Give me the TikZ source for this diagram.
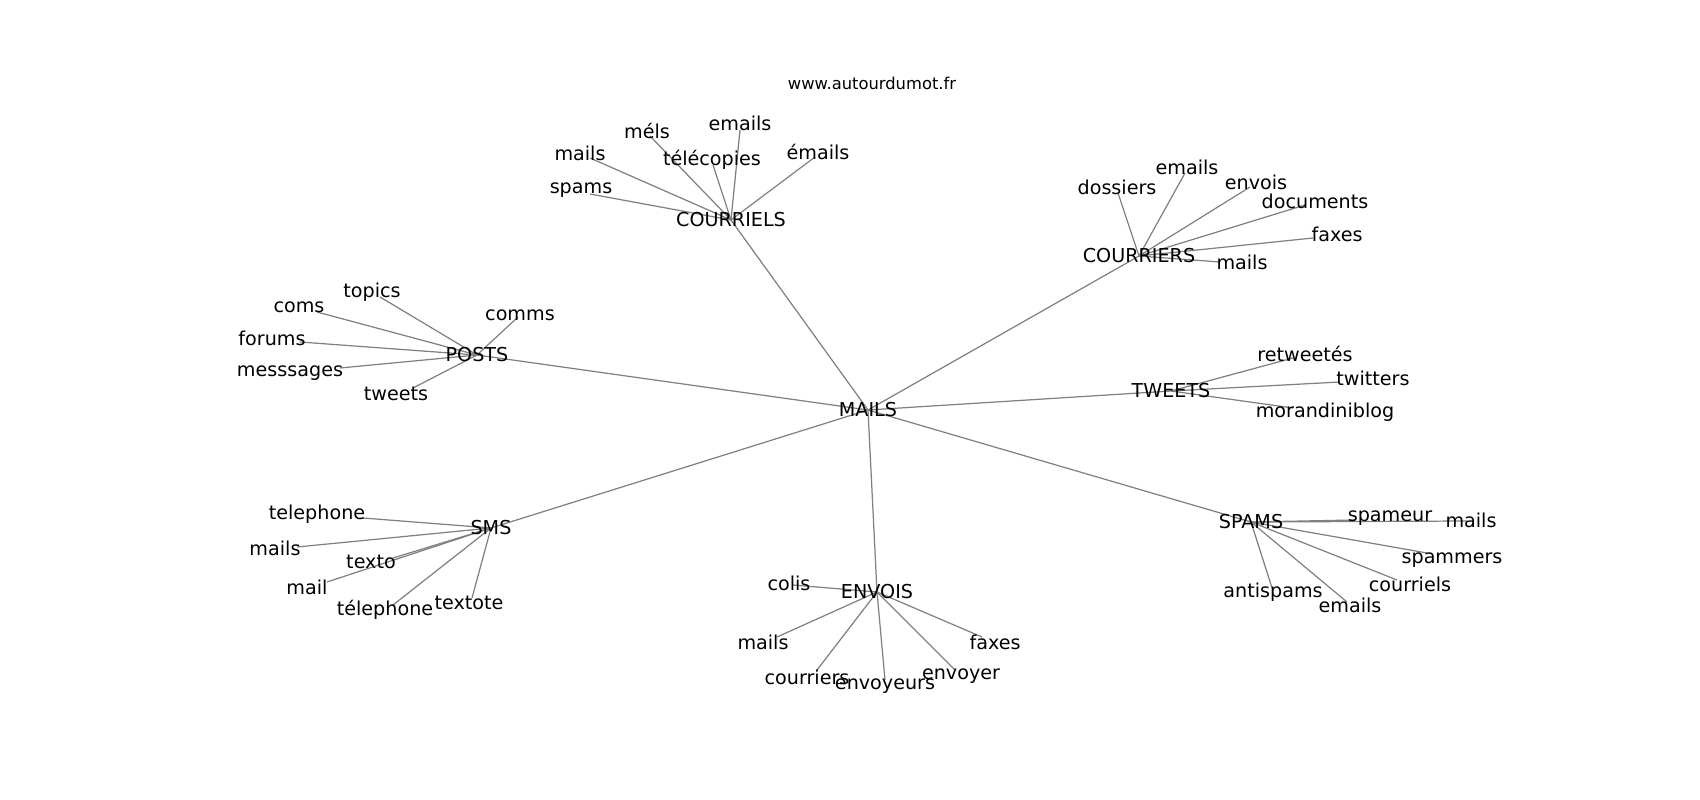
\documentclass[tikz,border=0pt]{standalone}
\usepackage{fontspec}
\setmainfont{DejaVu Sans}
\usepackage{tikz}
\usetikzlibrary{backgrounds}

\begin{document}
\begin{tikzpicture}[
      x=0.02cm, y=-0.02cm,
      hub/.style={inner sep=0pt, font=\fontsize{10.9}{12}\selectfont},
      word/.style={inner sep=0pt, font=\fontsize{10.9}{12}\selectfont},
      site/.style={inner sep=0pt, font=\fontsize{9.3}{11}\selectfont},
      link/.style={draw=black!50, line width=0.7pt}
    ]
    \useasboundingbox (0,0) rectangle (1700,800);

    % --- Title ---
    \node[site] (site) at (872,83) {www.autourdumot.fr};

    % --- Hubs ---
    \node[hub] (mails)     at (868,410)  {MAILS};
    \node[hub] (courriels) at (731,220)  {COURRIELS};
    \node[hub] (courriers) at (1139,256) {COURRIERS};
    \node[hub] (posts)     at (477,355)  {POSTS};
    \node[hub] (tweets)    at (1171,391) {TWEETS};
    \node[hub] (sms)       at (491,528)  {SMS};
    \node[hub] (envois)    at (877,592)  {ENVOIS};
    \node[hub] (spams)     at (1251,522) {SPAMS};

    % --- Words around COURRIELS ---
    \node[word] (ce-mels)   at (647,131) {méls};
    \node[word] (ce-emails) at (740,123) {emails};
    \node[word] (ce-mails)  at (580,153) {mails};
    \node[word] (ce-telec)  at (712,160) {télécopies};
    \node[word] (ce-emls)   at (818,152) {émails};
    \node[word] (ce-spams)  at (581,190) {spams};
    \coordinate (ce-mels-x)   at (650,136);
    \coordinate (ce-emails-x) at (740,130);
    \coordinate (ce-mails-x)  at (590,158);
    \coordinate (ce-telec-x)  at (713,165);
    \coordinate (ce-emls-x)   at (815,157);
    \coordinate (ce-spams-x)  at (590,194);

    % --- Words around COURRIERS ---
    \node[word] (cr-emails) at (1187,167) {emails};
    \node[word] (cr-doss)   at (1117,187) {dossiers};
    \node[word] (cr-envois) at (1256,182) {envois};
    \node[word] (cr-docs)   at (1315,201) {documents};
    \node[word] (cr-faxes)  at (1337,234) {faxes};
    \node[word] (cr-mails)  at (1242,262) {mails};
    \coordinate (cr-emails-x) at (1185,173);
    \coordinate (cr-doss-x)   at (1118,193);
    \coordinate (cr-envois-x) at (1250,187);
    \coordinate (cr-docs-x)   at (1305,205);
    \coordinate (cr-faxes-x)  at (1313,238);
    \coordinate (cr-mails-x)  at (1220,262);

    % --- Words around TWEETS ---
    \node[word] (tw-retw) at (1305,354) {retweetés};
    \node[word] (tw-twit) at (1373,378) {twitters};
    \node[word] (tw-mora) at (1325,412) {morandiniblog};
    \coordinate (tw-retw-x) at (1293,358);
    \coordinate (tw-twit-x) at (1340,382);
    \coordinate (tw-mora-x) at (1293,408);

    % --- Words around SPAMS ---
    \node[word] (sp-spameur) at (1390,518) {spameur};
    \node[word] (sp-mails)   at (1471,520) {mails};
    \node[word] (sp-spamm)   at (1452,560) {spammers};
    \node[word] (sp-courr)   at (1410,584) {courriels};
    \node[word] (sp-anti)    at (1273,592) {antispams};
    \node[word] (sp-emails)  at (1350,605) {emails};
    \coordinate (sp-spameur-x) at (1355,520);
    \coordinate (sp-mails-x)   at (1467,521);
    \coordinate (sp-spamm-x)   at (1427,553);
    \coordinate (sp-courr-x)   at (1397,580);
    \coordinate (sp-anti-x)    at (1272,588);
    \coordinate (sp-emails-x)  at (1347,602);

    % --- Words around ENVOIS ---
    \node[word] (en-colis)   at (789,583) {colis};
    \node[word] (en-mails)   at (763,642) {mails};
    \node[word] (en-courr)   at (807,677) {courriers};
    \node[word] (en-envoyrs) at (885,686) {envoyeurs};
    \node[word] (en-envoyer) at (961,676) {envoyer};
    \node[word] (en-faxes)   at (995,642) {faxes};
    \coordinate (en-colis-x)   at (793,585);
    \coordinate (en-mails-x)   at (777,637);
    \coordinate (en-courr-x)   at (817,670);
    \coordinate (en-envoyrs-x) at (885,680);
    \coordinate (en-envoyer-x) at (955,670);
    \coordinate (en-faxes-x)   at (982,637);

    % --- Words around SMS ---
    \node[word] (sm-tel)    at (317,514) {telephone};
    \node[word] (sm-mails)  at (275,548) {mails};
    \node[word] (sm-texto)  at (371,562) {texto};
    \node[word] (sm-mail)   at (307,587) {mail};
    \node[word] (sm-tele)   at (385,610) {télephone};
    \node[word] (sm-textot) at (469,603) {textote};
    \coordinate (sm-tel-x)    at (363,518);
    \coordinate (sm-mails-x)  at (297,547);
    \coordinate (sm-texto-x)  at (393,558);
    \coordinate (sm-mail-x)   at (327,582);
    \coordinate (sm-tele-x)   at (393,605);
    \coordinate (sm-textot-x) at (472,598);

    % --- Words around POSTS ---
    \node[word] (po-topics) at (372,292) {topics};
    \node[word] (po-coms)   at (299,307) {coms};
    \node[word] (po-forums) at (272,338) {forums};
    \node[word] (po-mess)   at (290,373) {messsages};
    \node[word] (po-comms)  at (520,315) {comms};
    \node[word] (po-tweets) at (396,394) {tweets};
    \coordinate (po-topics-x) at (380,297);
    \coordinate (po-coms-x)   at (317,312);
    \coordinate (po-forums-x) at (300,342);
    \coordinate (po-mess-x)   at (340,368);
    \coordinate (po-comms-x)  at (518,317);
    \coordinate (po-tweets-x) at (413,388);

    \begin{scope}[on background layer]
    % --- MAILS to hubs ---
    \draw[link] (mails.center) -- (courriels.center);
    \draw[link] (mails.center) -- (courriers.center);
    \draw[link] (mails.center) -- (posts.center);
    \draw[link] (mails.center) -- (tweets.center);
    \draw[link] (mails.center) -- (sms.center);
    \draw[link] (mails.center) -- (envois.center);
    \draw[link] (mails.center) -- (spams.center);

    % --- COURRIELS ---
    \draw[link] (courriels.center) -- (ce-mels-x);
    \draw[link] (courriels.center) -- (ce-emails-x);
    \draw[link] (courriels.center) -- (ce-mails-x);
    \draw[link] (courriels.center) -- (ce-telec-x);
    \draw[link] (courriels.center) -- (ce-emls-x);
    \draw[link] (courriels.center) -- (ce-spams-x);

    % --- COURRIERS ---
    \draw[link] (courriers.center) -- (cr-emails-x);
    \draw[link] (courriers.center) -- (cr-doss-x);
    \draw[link] (courriers.center) -- (cr-envois-x);
    \draw[link] (courriers.center) -- (cr-docs-x);
    \draw[link] (courriers.center) -- (cr-faxes-x);
    \draw[link] (courriers.center) -- (cr-mails-x);

    % --- TWEETS ---
    \draw[link] (tweets.center) -- (tw-retw-x);
    \draw[link] (tweets.center) -- (tw-twit-x);
    \draw[link] (tweets.center) -- (tw-mora-x);

    % --- SPAMS ---
    \draw[link] (spams.center) -- (sp-spameur-x);
    \draw[link] (spams.center) -- (sp-mails-x);
    \draw[link] (spams.center) -- (sp-spamm-x);
    \draw[link] (spams.center) -- (sp-courr-x);
    \draw[link] (spams.center) -- (sp-anti-x);
    \draw[link] (spams.center) -- (sp-emails-x);

    % --- ENVOIS ---
    \draw[link] (envois.center) -- (en-colis-x);
    \draw[link] (envois.center) -- (en-mails-x);
    \draw[link] (envois.center) -- (en-courr-x);
    \draw[link] (envois.center) -- (en-envoyrs-x);
    \draw[link] (envois.center) -- (en-envoyer-x);
    \draw[link] (envois.center) -- (en-faxes-x);

    % --- SMS ---
    \draw[link] (sms.center) -- (sm-tel-x);
    \draw[link] (sms.center) -- (sm-mails-x);
    \draw[link] (sms.center) -- (sm-texto-x);
    \draw[link] (sms.center) -- (sm-mail-x);
    \draw[link] (sms.center) -- (sm-tele-x);
    \draw[link] (sms.center) -- (sm-textot-x);

    % --- POSTS ---
    \draw[link] (posts.center) -- (po-topics-x);
    \draw[link] (posts.center) -- (po-coms-x);
    \draw[link] (posts.center) -- (po-forums-x);
    \draw[link] (posts.center) -- (po-mess-x);
    \draw[link] (posts.center) -- (po-comms-x);
    \draw[link] (posts.center) -- (po-tweets-x);
    \end{scope}

  \end{tikzpicture}
\end{document}
